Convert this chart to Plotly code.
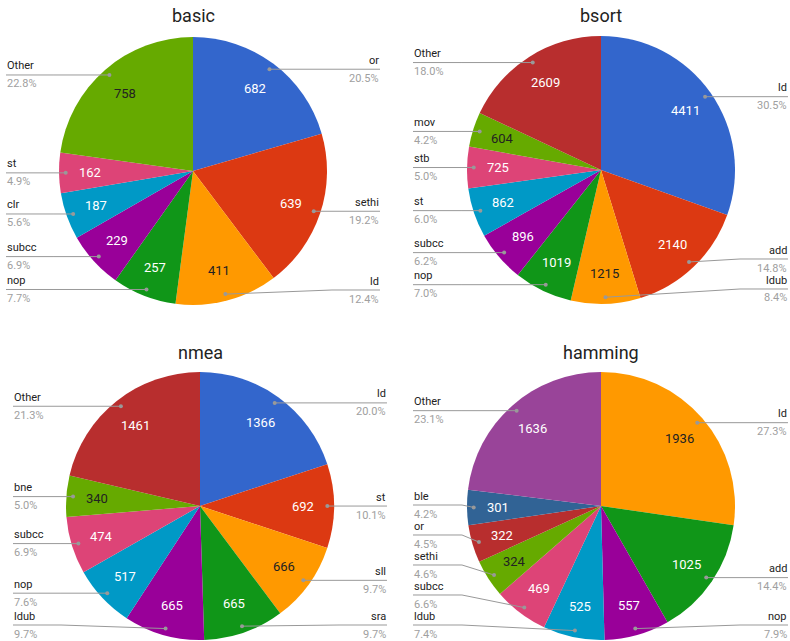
import math
import plotly.graph_objects as go

W, H = 790, 641

# ---------------- data ----------------
basic_labels = ["or", "sethi", "ld", "nop", "subcc", "clr", "st", "Other"]
basic_values = [682, 639, 411, 257, 229, 187, 162, 758]
basic_colors = ["#3366cc", "#dc3912", "#ff9900", "#109618", "#990099", "#0099c6", "#dd4477", "#66aa00"]

bsort_labels = ["ld", "add", "ldub", "nop", "subcc", "st", "stb", "mov", "Other"]
bsort_values = [4411, 2140, 1215, 1019, 896, 862, 725, 604, 2609]
bsort_colors = ["#3366cc", "#dc3912", "#ff9900", "#109618", "#990099", "#0099c6", "#dd4477", "#66aa00", "#b82e2e"]

nmea_labels = ["ld", "st", "sll", "sra", "ldub", "nop", "subcc", "bne", "Other"]
nmea_values = [1366, 692, 666, 665, 665, 517, 474, 340, 1461]
nmea_colors = ["#3366cc", "#dc3912", "#ff9900", "#109618", "#990099", "#0099c6", "#dd4477", "#66aa00", "#b82e2e"]

hamming_labels = ["ld", "add", "nop", "ldub", "subcc", "sethi", "or", "ble", "Other"]
hamming_values = [1936, 1025, 557, 525, 469, 324, 322, 301, 1636]
hamming_colors = ["#ff9900", "#109618", "#990099", "#0099c6", "#dd4477", "#66aa00", "#b82e2e", "#316395", "#994499"]

titles = ["basic", "bsort", "nmea", "hamming"]

# ---------------- layout constants (pixels) ----------------
charts = [
    dict(title=titles[0], labels=basic_labels, values=basic_values, colors=basic_colors,
         cx=193, cy=171, ty=15, lx=6, rx=380),
    dict(title=titles[1], labels=bsort_labels, values=bsort_values, colors=bsort_colors,
         cx=601, cy=170, ty=15, lx=413, rx=788),
    dict(title=titles[2], labels=nmea_labels, values=nmea_values, colors=nmea_colors,
         cx=200, cy=506, ty=352, lx=13, rx=387),
    dict(title=titles[3], labels=hamming_labels, values=hamming_values, colors=hamming_colors,
         cx=601, cy=506, ty=352, lx=413, rx=788),
]
R = 134
DOT_R = 0.95
VAL_R = 0.77
GAP = 30
BOTTOM = 119
FONT = "Roboto, Arial, sans-serif"
DARK_TEXT = {"#ff9900", "#66aa00"}


def px(x):
    return x / W


def py(y):
    return 1 - y / H


fig = go.Figure()
shapes = []
annotations = []

for c in charts:
    cx, cy = c["cx"], c["cy"]
    vals = c["values"]
    total = float(sum(vals))
    fig.add_trace(go.Pie(
        labels=c["labels"], values=vals, sort=False, direction="clockwise", rotation=0,
        marker=dict(colors=c["colors"], line=dict(color="white", width=0)),
        textinfo="none",
        domain=dict(x=[px(cx - R), px(cx + R)], y=[py(cy + R), py(cy - R)]),
        showlegend=False, hoverinfo="label+value+percent",
    ))
    annotations.append(dict(text=c["title"], x=px(cx), y=py(c["ty"]), xref="paper", yref="paper",
                            showarrow=False, xanchor="center", yanchor="middle",
                            font=dict(family=FONT, size=18, color="#222222")))

    cum = 0.0
    items = []
    for lab, v, col in zip(c["labels"], vals, c["colors"]):
        mid = (cum + v / 2) / total
        cum += v
        th = 2 * math.pi * mid
        dx, dy = math.sin(th), -math.cos(th)
        # value label inside the slice
        annotations.append(dict(text=str(v), x=px(cx + VAL_R * R * dx), y=py(cy + VAL_R * R * dy),
                                xref="paper", yref="paper", showarrow=False,
                                xanchor="center", yanchor="middle", borderpad=0,
                                font=dict(family=FONT, size=13,
                                          color="#222222" if col in DARK_TEXT else "#ffffff")))
        items.append(dict(lab=lab, pct="%.1f%%" % (100 * v / total),
                          dotx=cx + DOT_R * R * dx, doty=cy + DOT_R * R * dy,
                          side="R" if dx >= 0 else "L"))

    # callout labels with simple collision avoidance
    for side in ("L", "R"):
        its = sorted([i for i in items if i["side"] == side], key=lambda i: i["doty"])
        for i in its:
            i["ly"] = i["doty"]
        lim = cy + BOTTOM
        for k in range(len(its) - 1, -1, -1):
            its[k]["ly"] = min(its[k]["ly"], lim)
            lim = its[k]["ly"] - GAP
        for i in its:
            if side == "L":
                ex = c["lx"]
                elbow = min(i["dotx"], cx - R - 5)
                xa = "left"
            else:
                ex = c["rx"]
                elbow = max(i["dotx"], cx + R + 5)
                xa = "right"
            path = "M %f,%f L %f,%f L %f,%f" % (px(i["dotx"]), py(i["doty"]), px(elbow), py(i["ly"]),
                                                 px(ex), py(i["ly"]))
            shapes.append(dict(type="path", path=path, xref="paper", yref="paper",
                               line=dict(color="#999999", width=1)))
            shapes.append(dict(type="circle", xref="paper", yref="paper",
                               x0=px(i["dotx"] - 2), x1=px(i["dotx"] + 2),
                               y0=py(i["doty"] + 2), y1=py(i["doty"] - 2),
                               fillcolor="#999999", line=dict(width=0)))
            annotations.append(dict(text=i["lab"], x=px(ex), y=py(i["ly"] - 1.5), xref="paper", yref="paper",
                                    showarrow=False, xanchor=xa, yanchor="bottom", borderpad=0,
                                    font=dict(family=FONT, size=11, color="#222222")))
            annotations.append(dict(text=i["pct"], x=px(ex), y=py(i["ly"] + 1.5), xref="paper", yref="paper",
                                    showarrow=False, xanchor=xa, yanchor="top", borderpad=0,
                                    font=dict(family=FONT, size=11, color="#a0a0a0")))

fig.update_layout(
    width=W, height=H, margin=dict(l=0, r=0, t=0, b=0),
    paper_bgcolor="white", plot_bgcolor="white",
    shapes=shapes, annotations=annotations,
)

fig.write_html("out.html")
